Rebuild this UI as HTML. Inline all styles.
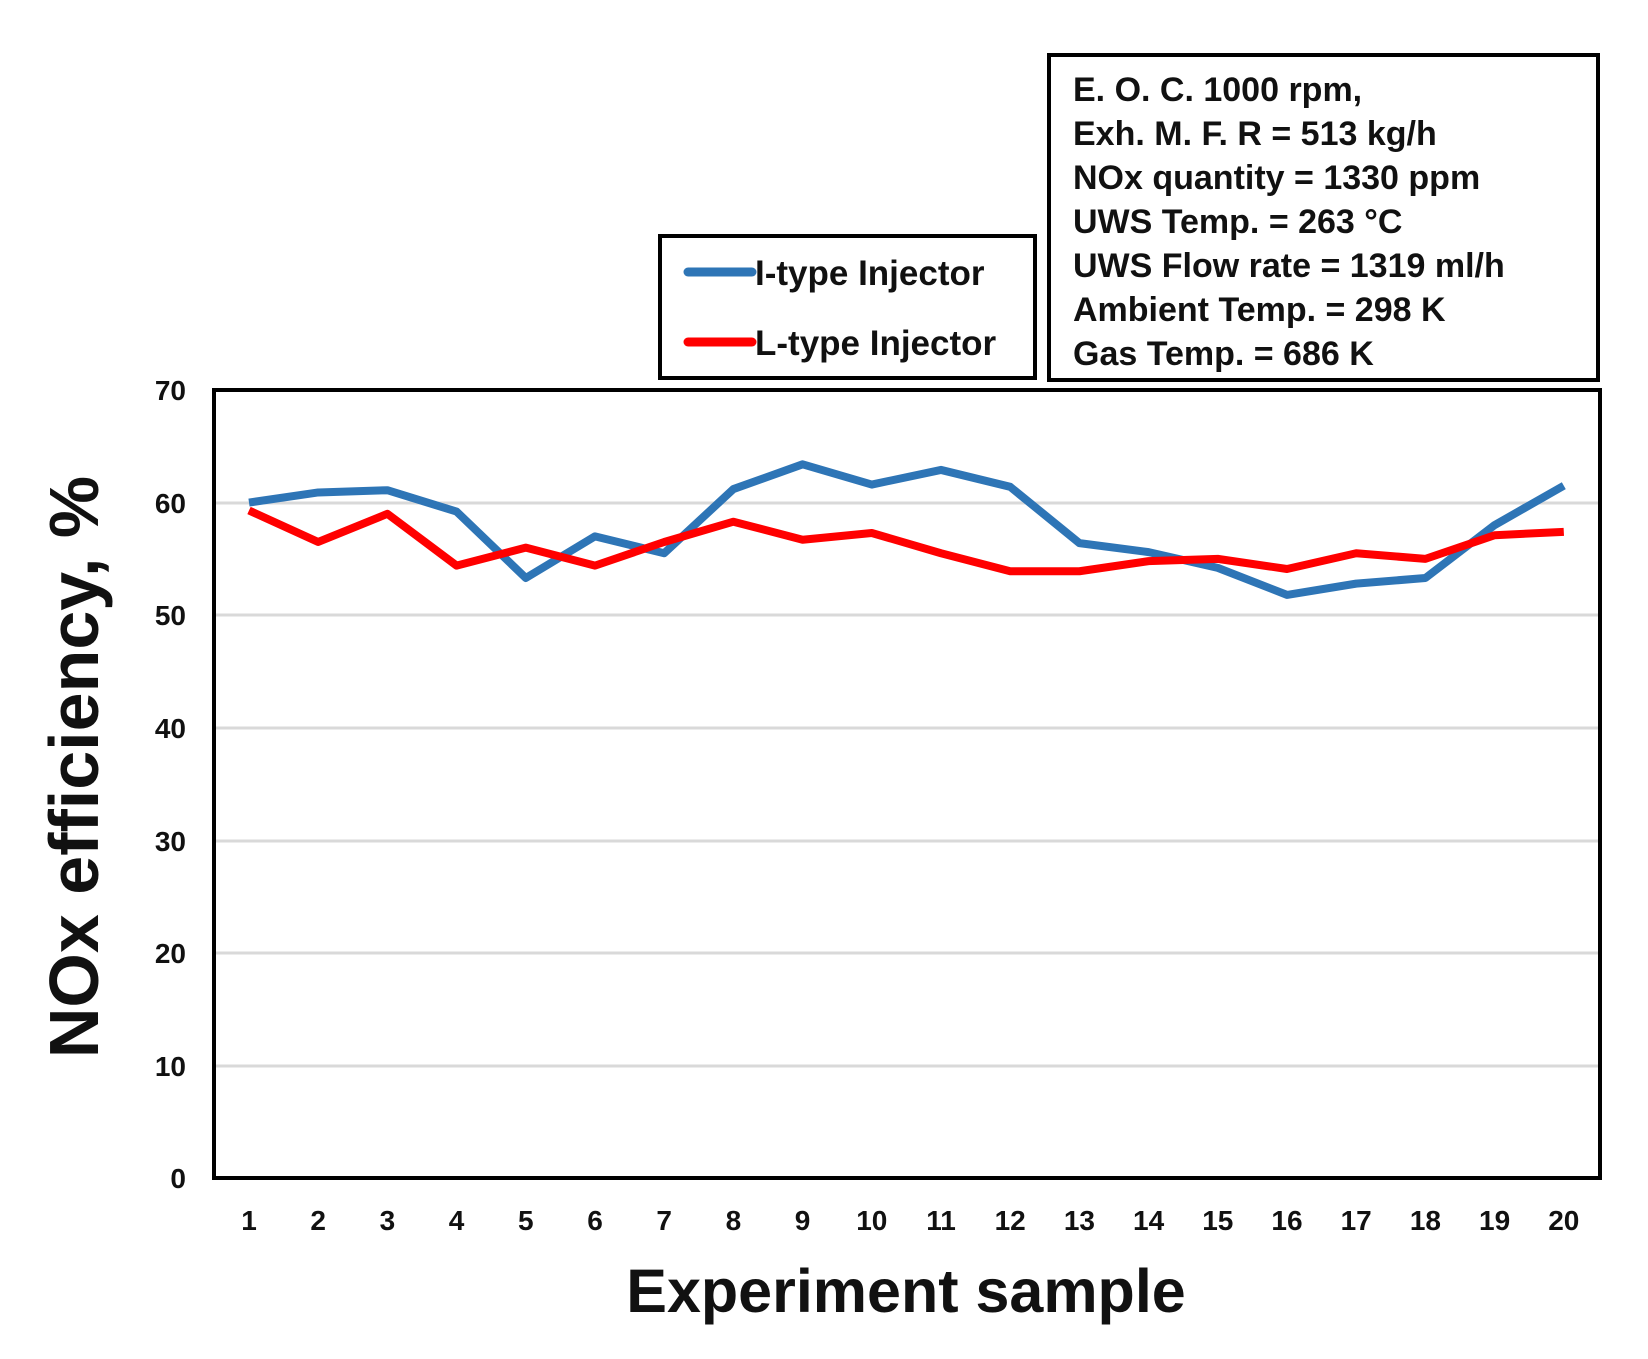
<!DOCTYPE html>
<html><head><meta charset="utf-8"><style>
body{margin:0;background:#fff}
svg{display:block}
text{font-family:"Liberation Sans Narrow","Liberation Sans",sans-serif;font-weight:bold;fill:#111}
</style></head><body>
<svg width="1648" height="1359" viewBox="0 0 1648 1359" xmlns="http://www.w3.org/2000/svg">
<g stroke="#d9d9d9" stroke-width="3">
<line x1="214" x2="1600" y1="1066" y2="1066"/>
<line x1="214" x2="1600" y1="953" y2="953"/>
<line x1="214" x2="1600" y1="841" y2="841"/>
<line x1="214" x2="1600" y1="728" y2="728"/>
<line x1="214" x2="1600" y1="615" y2="615"/>
<line x1="214" x2="1600" y1="503" y2="503"/>
</g>
<rect x="214" y="390" width="1386" height="788" fill="none" stroke="#000" stroke-width="4"/>
<g font-size="28" text-anchor="end">
<text x="186" y="1188">0</text><text x="186" y="1076">10</text><text x="186" y="963">20</text>
<text x="186" y="851">30</text><text x="186" y="738">40</text><text x="186" y="625">50</text>
<text x="186" y="513">60</text><text x="186" y="400">70</text>
</g>
<g font-size="28" text-anchor="middle" id="xt"></g>
<polyline id="blue" fill="none" stroke="#2e75b6" stroke-width="8" stroke-linejoin="round"/>
<polyline id="red" fill="none" stroke="#ff0000" stroke-width="8" stroke-linejoin="round"/>
<text x="906" y="1312" font-size="61" text-anchor="middle" style="font-family:'Liberation Sans',sans-serif">Experiment sample</text>
<text transform="translate(98,767) rotate(-90)" font-size="70" text-anchor="middle" style="font-family:'Liberation Sans',sans-serif">NOx efficiency, %</text>
<rect x="660" y="236" width="375" height="142" fill="#fff" stroke="#000" stroke-width="4"/>
<line x1="688" x2="752" y1="272" y2="272" stroke="#2e75b6" stroke-width="9" stroke-linecap="round"/>
<line x1="688" x2="752" y1="342" y2="342" stroke="#ff0000" stroke-width="9" stroke-linecap="round"/>
<text x="755" y="285" font-size="35">I-type Injector</text>
<text x="755" y="355" font-size="35">L-type Injector</text>
<rect x="1049" y="55" width="549" height="325" fill="#fff" stroke="#000" stroke-width="4"/>
<g font-size="34">
<text x="1073" y="101">E. O. C. 1000 rpm,</text>
<text x="1073" y="145">Exh. M. F. R = 513 kg/h</text>
<text x="1073" y="189">NOx quantity = 1330 ppm</text>
<text x="1073" y="233">UWS Temp. = 263 °C</text>
<text x="1073" y="277">UWS Flow rate = 1319 ml/h</text>
<text x="1073" y="321">Ambient  Temp. = 298 K</text>
<text x="1073" y="365">Gas Temp. = 686 K</text>
</g>
</svg>
<script>
var b=[60,60.9,61.1,59.2,53.3,57,55.5,61.2,63.4,61.6,62.9,61.4,56.4,55.6,54.2,51.8,52.8,53.3,58,61.5];
var r=[59.3,56.5,59,54.4,56,54.4,56.5,58.3,56.7,57.3,55.5,53.9,53.9,54.8,55,54.1,55.5,55,57.1,57.4];
function X(i){return 249+i*69.2}function Y(v){return 1178-v*11.257}
document.getElementById('blue').setAttribute('points',b.map((v,i)=>X(i)+','+Y(v)).join(' '));
document.getElementById('red').setAttribute('points',r.map((v,i)=>X(i)+','+Y(v)).join(' '));
var g=document.getElementById('xt');
for(var i=0;i<20;i++){var t=document.createElementNS('http://www.w3.org/2000/svg','text');t.setAttribute('x',X(i));t.setAttribute('y',1230);t.textContent=i+1;g.appendChild(t);}
</script>
</body></html>
